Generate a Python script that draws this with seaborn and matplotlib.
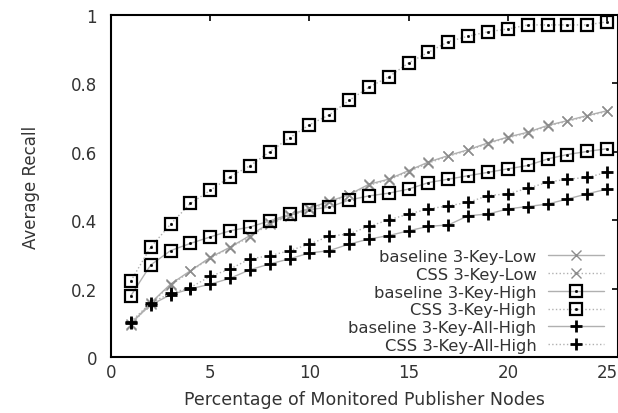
import numpy as np
import pandas as pd
import seaborn as sns
import matplotlib
matplotlib.use("Agg")
import matplotlib.pyplot as plt

# ---- data ----
pct = list(range(1, 26))
baseline_low = [0.096, 0.158, 0.213, 0.252, 0.291, 0.321, 0.355, 0.392, 0.415, 0.435,
                0.455, 0.475, 0.505, 0.520, 0.545, 0.570, 0.589, 0.606, 0.626, 0.643,
                0.657, 0.677, 0.691, 0.706, 0.720]
css_low = [0.094, 0.156, 0.210, 0.250, 0.289, 0.319, 0.352, 0.389, 0.412, 0.432,
           0.452, 0.473, 0.502, 0.518, 0.542, 0.567, 0.587, 0.604, 0.624, 0.641,
           0.655, 0.675, 0.689, 0.704, 0.718]
baseline_high = [0.179, 0.269, 0.311, 0.332, 0.351, 0.369, 0.380, 0.398, 0.417, 0.431,
                 0.438, 0.459, 0.471, 0.479, 0.491, 0.510, 0.520, 0.530, 0.540, 0.550,
                 0.560, 0.579, 0.592, 0.601, 0.609]
css_high = [0.222, 0.321, 0.388, 0.449, 0.487, 0.527, 0.559, 0.600, 0.641, 0.679,
            0.708, 0.750, 0.789, 0.819, 0.860, 0.891, 0.922, 0.938, 0.951, 0.959,
            0.971, 0.971, 0.971, 0.971, 0.980]
baseline_allhigh = [0.100, 0.152, 0.182, 0.199, 0.213, 0.230, 0.255, 0.272, 0.287, 0.304,
                    0.311, 0.330, 0.345, 0.355, 0.369, 0.382, 0.386, 0.413, 0.418, 0.433,
                    0.440, 0.447, 0.462, 0.477, 0.491]
css_allhigh = [0.103, 0.158, 0.186, 0.203, 0.236, 0.257, 0.287, 0.296, 0.311, 0.330,
               0.353, 0.360, 0.382, 0.401, 0.418, 0.433, 0.442, 0.452, 0.472, 0.477,
               0.493, 0.511, 0.520, 0.525, 0.540]

labels = ["baseline 3-Key-Low", "CSS 3-Key-Low", "baseline 3-Key-High",
          "CSS 3-Key-High", "baseline 3-Key-All-High", "CSS 3-Key-All-High"]
xticks = [0, 5, 10, 15, 20, 25]
yticks = [0, 0.2, 0.4, 0.6, 0.8, 1]
ytick_labels = ["0", "0.2", "0.4", "0.6", "0.8", "1"]

sns.set_style("white")
plt.rcParams["font.family"] = ["DejaVu Sans"]

fig = plt.figure(figsize=(6.18, 4.14), dpi=100)
ax = fig.add_axes([0.1796, 0.1353, 0.8204, 0.8261])

line_col = "#b0b0b0"
series = [baseline_low, css_low, baseline_high, css_high, baseline_allhigh, css_allhigh]
styles = ["-", ":", "-", ":", "-", ":"]
kinds = ["x", "x", "s", "s", "+", "+"]
handles = []
for vals, lab, ls, kind in zip(series, labels, styles, kinds):
    df = pd.DataFrame({"x": pct, "y": vals})
    if kind == "x":
        sns.lineplot(data=df, x="x", y="y", ax=ax, color=line_col, linestyle=ls, lw=1.0,
                     marker="x", markersize=7, markeredgecolor="#8c8c8c",
                     markeredgewidth=1.0)
        h = ax.lines[-1]
    elif kind == "s":
        sns.lineplot(data=df, x="x", y="y", ax=ax, color=line_col, linestyle=ls, lw=1.0,
                     marker="s", markersize=8.5, markerfacecolor="none",
                     markeredgecolor="black", markeredgewidth=1.6)
        h1 = ax.lines[-1]
        sns.lineplot(data=df, x="x", y="y", ax=ax, color="black", linestyle="none",
                     marker="o", markersize=1.6, markeredgecolor="black",
                     markeredgewidth=0.5)
        h2 = ax.lines[-1]
        h = (h1, h2)
    else:
        sns.lineplot(data=df, x="x", y="y", ax=ax, color=line_col, linestyle=ls, lw=1.0,
                     marker="+", markersize=9, markeredgecolor="black",
                     markeredgewidth=2.0)
        h = ax.lines[-1]
    handles.append(h)

ax.set_xlim(0, 25.55)
ax.set_ylim(0, 1)
ax.set_xticks(xticks)
ax.set_yticks(yticks)
ax.set_yticklabels(ytick_labels)
ax.tick_params(direction="in", length=4, width=1.2, top=True, right=True,
               labelsize=12, colors="black", labelcolor="#333333")
ax.tick_params(axis="y", pad=10)
ax.tick_params(axis="x", pad=4)
for s in ax.spines.values():
    s.set_color("black")
    s.set_linewidth(1.5)
ax.set_xlabel("Percentage of Monitored Publisher Nodes", fontsize=12.5, color="#333333",
              labelpad=7)
ax.set_ylabel("Average Recall", fontsize=12, color="#333333", labelpad=22)

leg = ax.legend(handles, labels, loc="lower right", bbox_to_anchor=(0.98, 0.0),
                markerfirst=False, frameon=False, fontsize=11.8, handlelength=3.4,
                handletextpad=0.7, labelspacing=0.17, borderaxespad=0.1, borderpad=0.15)
for t in leg.get_texts():
    t.set_color("#333333")

fig.savefig("out.png", dpi=100)
